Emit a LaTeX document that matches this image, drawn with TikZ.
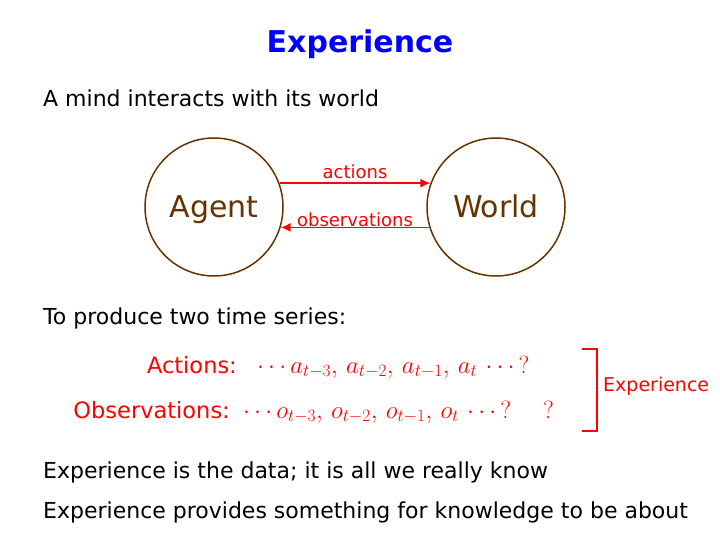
\documentclass[tikz,border=0pt]{standalone}
\usepackage{amsmath}
\usepackage{fontspec}
\setmainfont{DejaVu Sans}
\usetikzlibrary{arrows.meta}

\definecolor{mindbrown}{RGB}{102,51,0}
\definecolor{titleblue}{RGB}{0,0,255}

\tikzset{
    body/.style={anchor=base west, inner sep=0pt, font=\fontsize{22}{26}\selectfont},
    entity/.style={circle, draw=mindbrown, line width=1.5pt, minimum size=138pt,
        text=mindbrown, text height=22pt, text depth=0pt, font=\fontsize{30}{36}\selectfont},
    flow/.style={red, line width=1.5pt, -{Latex[length=10pt,width=9pt]}},
    flowlabel/.style={red, inner sep=1pt, font=\fontsize{18}{22}\selectfont},
    series/.style={red, inner sep=0pt, font=\fontsize{22.5}{27}\selectfont}
}

\begin{document}
\begin{tikzpicture}[x=1pt, y=-1pt]
    \useasboundingbox (0,0) rectangle (720,540);
    % Title
    \node[titleblue, anchor=base, inner sep=0pt, font=\fontsize{30}{36}\bfseries\selectfont]
        (title) at (360,53) {Experience};
    \node[body] (intro) at (43,107) {A mind interacts with its world};
    % Agent and world
    \node[entity] (agent) at (214,207) {Agent};
    \node[entity] (world) at (496,207) {World};
    \draw[flow] (agent.20) -- node[flowlabel, above=3pt] (act) {actions} (world.160);
    \draw[flow] (world.-163) -- node[flowlabel, above=-1pt] (obs) {observations} (agent.-17);
    % Time series
    \node[body] (produce) at (43,324) {To produce two time series:};
    \node[series, anchor=base east] (actlbl) at (237,373) {Actions:};
    \node[series, anchor=base west, font=\fontsize{25}{30}\selectfont] (actseq) at (257,373)
        {$\cdots a_{t-3},\, a_{t-2},\, a_{t-1},\, a_t \,\cdots\, ?$};
    \node[series, anchor=base east] (obslbl) at (230,418) {Observations:};
    \node[series, anchor=base west, font=\fontsize{25}{30}\selectfont] (obsseq) at (243,418)
        {$\cdots o_{t-3},\, o_{t-2},\, o_{t-1},\, o_t \,\cdots\, ?\quad\; ?$};
    % Bracket
    \coordinate (brtop) at (582,349);
    \coordinate (brbot) at (582,431);
    \draw[red, line width=1.5pt] (brtop) -- ++(15,0) |- (brbot);
    \node[red, anchor=west, inner sep=0pt, font=\fontsize{19}{23}\selectfont]
        (exp) at (603,386) {Experience};
    % Conclusions
    \node[body] (data) at (43,478) {Experience is the data; it is all we really know};
    \node[body] (about) at (43,518) {Experience provides something for knowledge to be about};
\end{tikzpicture}
\end{document}
